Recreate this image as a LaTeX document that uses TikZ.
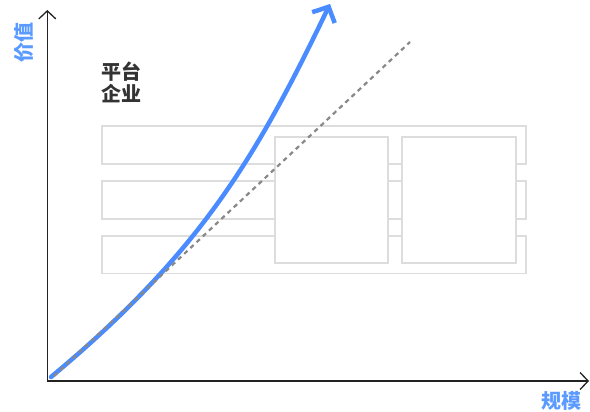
\documentclass[tikz,border=0pt]{standalone}
\usepackage{fontspec}
\newfontfamily\cjk{Noto Sans CJK SC}
\usetikzlibrary{arrows.meta}
\definecolor{curveblue}{HTML}{4A8CFF}
\definecolor{labelblue}{HTML}{5B9BFF}
\definecolor{boxgray}{HTML}{DDDDDD}
\definecolor{dashgray}{HTML}{888888}
\definecolor{textdark}{HTML}{333333}
\definecolor{axisdark}{HTML}{222222}
\tikzset{
  rowbox/.style={draw=boxgray, line width=1.8pt, fill=white, inner sep=0pt, minimum width=423.4pt, minimum height=37.4pt},
  squarebox/.style={draw=boxgray, line width=1.8pt, fill=white, inner sep=0pt, minimum width=113.3pt, minimum height=125.4pt},
  axisline/.style={draw=axisdark, line width=1.3pt, -{Straight Barb[length=8pt,width=17pt,line width=1.3pt]}},
  trendline/.style={draw=dashgray, line width=2.2pt, dash pattern=on 4.5pt off 4pt},
  growth/.style={draw=curveblue, line width=4.5pt, line cap=round, -{Straight Barb[length=12pt,width=25pt]}},
  bluelabel/.style={text=labelblue, font=\cjk\bfseries\fontsize{20}{22}\selectfont, inner sep=0pt},
  darklabel/.style={text=textdark, font=\cjk\bfseries\fontsize{20}{22}\selectfont, inner sep=0pt, align=left}
}
\begin{document}
\begin{tikzpicture}[x=1pt,y=-1pt]
\useasboundingbox (0,0) rectangle (590,412);
% background rows
\node[rowbox] (row1) at (314,145) {};
\node[rowbox] (row2) at (314,200) {};
\node[rowbox] (row3) at (314,254.7) {};
% squares
\node[squarebox] (sq1) at (331.7,200) {};
\node[squarebox] (sq2) at (459,200) {};
% axes
\coordinate (origin) at (47.3,381);
\coordinate (ytop) at (47.3,10);
\coordinate (xend) at (589,381);
\draw[axisline] (origin) -- (ytop);
\draw[axisline] (origin) -- (xend);
% labels
\node[bluelabel, rotate=90] (ylab) at (24,43) {价值};
\node[bluelabel] (xlab) at (561,401) {规模};
\node[darklabel, anchor=north west] (plat) at (101,62) {平台\\企业};
% growth curve
\coordinate (cstart) at (51,377);
\coordinate (cend) at (330,4);
\draw[growth] (cstart) .. controls (200,253) and (256,158) .. (cend);
% trend line
\coordinate (dstart) at (54,376);
\coordinate (dend) at (410,42);
\draw[trendline] (dstart) -- (dend);
\end{tikzpicture}
\end{document}
